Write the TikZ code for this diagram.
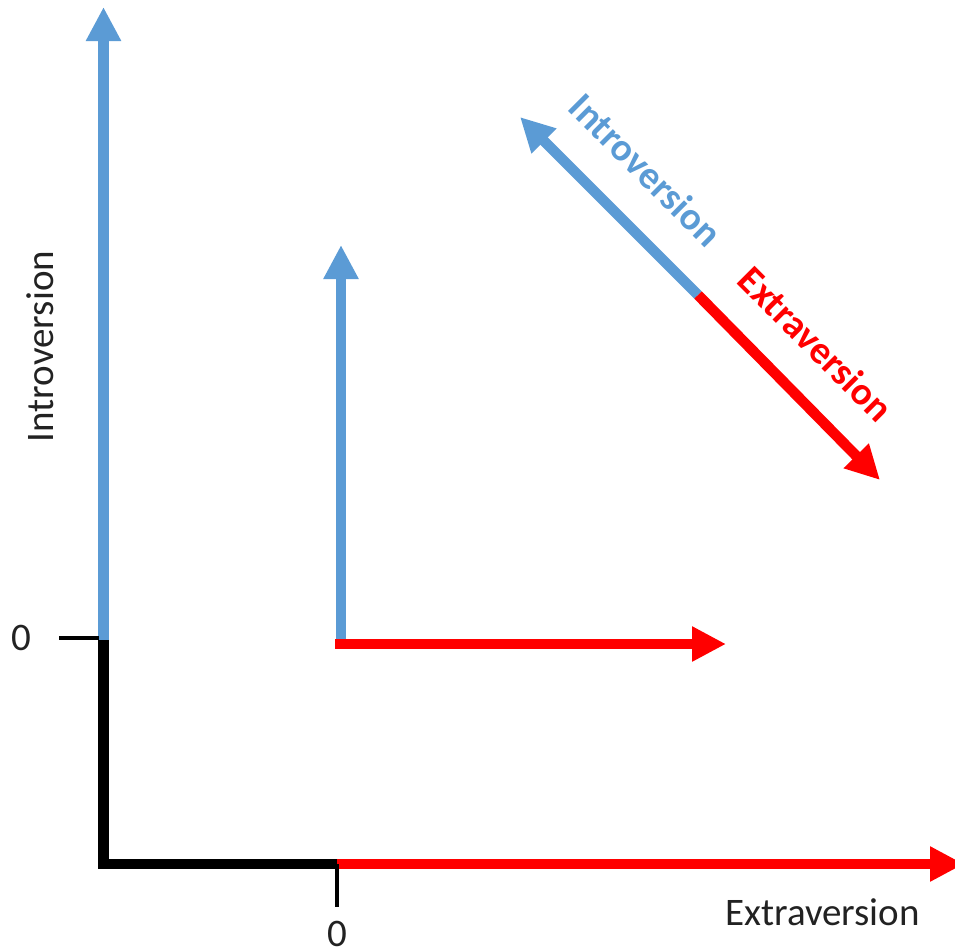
\documentclass[tikz,border=0pt]{standalone}
\usepackage{fontspec}
\setmainfont{Carlito}
\usetikzlibrary{arrows.meta}
\definecolor{myblue}{HTML}{5B9BD5}
\definecolor{myred}{HTML}{FF0000}
\definecolor{txt}{HTML}{222222}
\tikzset{
  bar/.style={line width=10.5pt},
  bluebar/.style={bar, draw=myblue},
  redbar/.style={bar, draw=myred},
  headed/.style={-{Triangle[length=34pt,width=33pt]}},
  tick/.style={line width=3.5pt, draw=black},
  lbl/.style={font=\fontsize{39}{41}\selectfont, text=txt, inner sep=0pt},
  dlbl/.style={font=\fontsize{39}{41}\selectfont\bfseries, inner sep=0pt, rotate=-45},
}
\begin{document}
\begin{tikzpicture}[x=1pt,y=-1pt]
\useasboundingbox (0,0) rectangle (955,948);
% outer axes
\coordinate (o) at (103.5,640);
\coordinate (ytop) at (103.5,7);
\coordinate (corner) at (103.5,864);
\coordinate (xo) at (337,864);
\coordinate (xend) at (964,864);
\coordinate (ytick) at (59,638);
\coordinate (ytickend) at (99,638);
\coordinate (xtickend) at (337,907);
\draw[bluebar, headed] (o) -- (ytop);
\draw[bar, draw=black, line join=miter] (o) -- (corner) -- (xo);
\draw[redbar, headed] (xo) -- (xend);
\draw[tick] (ytick) -- (ytickend);
\draw[tick] (xo) -- (xtickend);
\node[lbl] (y0) at (21,638) {0};
\node[lbl] (x0) at (337,934) {0};
\node[lbl, anchor=base] (xl) at (822.5,925) {Extraversion};
\node[lbl, anchor=base, rotate=90] (yl) at (53,346.5) {Introversion};
% inner axes
\coordinate (ib) at (341,640);
\coordinate (iytop) at (341,245);
\coordinate (ixs) at (335,644);
\coordinate (ixend) at (726,644);
\draw[bluebar, headed] (ib) -- (iytop);
\draw[redbar, headed] (ixs) -- (ixend);
% diagonal
\coordinate (d) at (698,295);
\coordinate (dblue) at (520,117);
\coordinate (dred) at (880,480);
\draw[bluebar, headed] (d) -- (dblue);
\draw[redbar, headed] (d) -- (dred);
\node[dlbl, text=myblue] (il) at (646,170) {Introversion};
\node[dlbl, text=myred] (el) at (816,344) {Extraversion};
\end{tikzpicture}
\end{document}
